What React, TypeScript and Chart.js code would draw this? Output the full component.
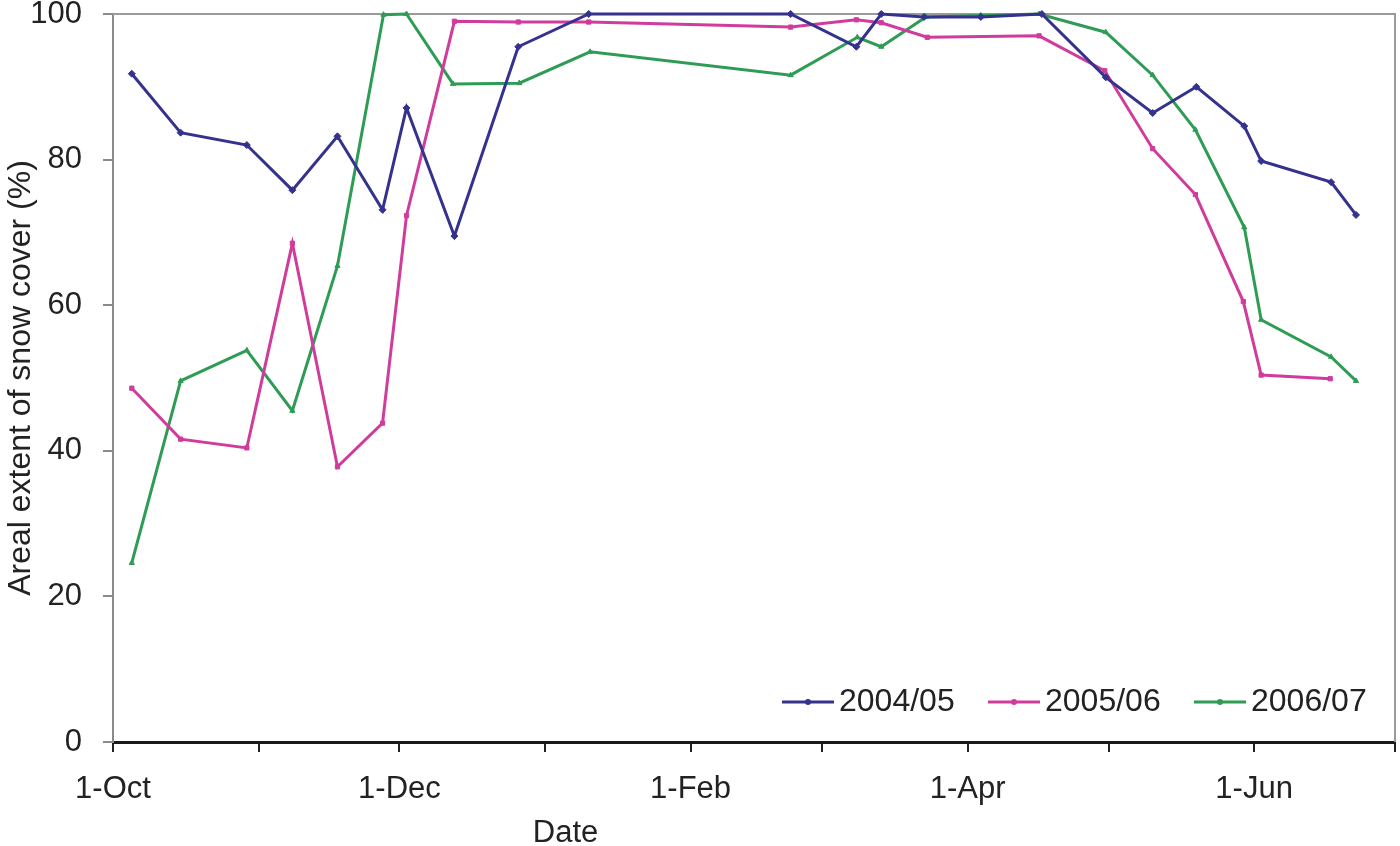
import React, { useEffect, useRef } from "react";
import { Chart, registerables } from "chart.js";

Chart.register(...registerables);

// Days counted from 1 October
const days2004 = [4.0, 14.4, 28.5, 38.2, 47.8, 57.4, 62.5, 72.7, 86.3, 101.3, 144.3, 158.3, 163.6, 172.7, 184.8, 197.8, 211.4, 221.4, 230.7, 240.9, 244.5, 259.4, 264.7];
const snow2004 = [91.8, 83.7, 82.0, 75.8, 83.2, 73.1, 87.1, 69.5, 95.5, 100, 100, 95.5, 100, 99.6, 99.6, 100, 91.3, 86.4, 90.0, 84.6, 79.8, 76.9, 72.4];

const days2005 = [4.0, 14.4, 28.5, 38.2, 47.8, 57.4, 62.5, 72.7, 86.3, 101.3, 144.3, 158.3, 163.6, 173.4, 197.2, 211.2, 221.4, 230.5, 240.7, 244.5, 259.2];
const snow2005 = [48.6, 41.6, 40.4, 68.5, 37.8, 43.8, 72.3, 99.0, 98.9, 98.9, 98.2, 99.2, 98.8, 96.8, 97.0, 92.2, 81.5, 75.2, 60.5, 50.4, 49.9];

const days2006 = [4.0, 14.4, 28.5, 38.2, 47.8, 57.6, 62.5, 72.4, 86.5, 101.6, 144.3, 158.5, 163.6, 173.1, 184.8, 197.2, 211.4, 221.4, 230.5, 240.9, 244.5, 259.4, 264.7];
const snow2006 = [24.6, 49.6, 53.8, 45.5, 65.4, 99.9, 100, 90.4, 90.5, 94.8, 91.6, 96.8, 95.5, 99.6, 99.8, 100, 97.5, 91.6, 84.1, 70.7, 58.0, 52.9, 49.6];

const seriesLabels = ["2004/05", "2005/06", "2006/07"];
const monthTicks = [0, 31, 61, 92, 123, 151, 182, 212, 243, 273];
const monthLabels = ["1-Oct", "", "1-Dec", "", "1-Feb", "", "1-Apr", "", "1-Jun", ""];
const yTitle = "Areal extent of snow cover (%)";
const xTitle = "Date";

const FONT = "'Liberation Sans', Arial, sans-serif";
const TEXT = "#222222";

function pts(xs: number[], ys: number[]) {
  return xs.map((x, i) => ({ x, y: ys[i] }));
}

const framePlugin = {
  id: "frame",
  beforeDatasetsDraw(chart: any) {
    const { ctx, chartArea } = chart;
    ctx.save();
    ctx.strokeStyle = "#9a9a9a";
    ctx.lineWidth = 2;
    ctx.beginPath();
    ctx.moveTo(chartArea.left, chartArea.top);
    ctx.lineTo(chartArea.right, chartArea.top);
    ctx.lineTo(chartArea.right, chartArea.bottom);
    ctx.stroke();
    ctx.restore();
  },
  afterDraw(chart: any) {
    const { ctx, chartArea } = chart;
    ctx.save();
    // x-axis title
    ctx.font = `31px ${FONT}`;
    ctx.fillStyle = TEXT;
    ctx.textAlign = "center";
    ctx.textBaseline = "middle";
    ctx.fillText(xTitle, chartArea.left + 0.353 * (chartArea.right - chartArea.left), 833);
    // legend
    const ds = chart.data.datasets;
    const y = chartArea.bottom - 40;
    ds.forEach((d: any, i: number) => {
      const x0 = chartArea.right - 613 + i * 206;
      ctx.strokeStyle = d.borderColor;
      ctx.lineWidth = 3;
      ctx.beginPath();
      ctx.moveTo(x0, y);
      ctx.lineTo(x0 + 52, y);
      ctx.stroke();
      ctx.fillStyle = d.borderColor;
      ctx.beginPath();
      ctx.arc(x0 + 26, y, 3, 0, Math.PI * 2);
      ctx.fill();
      ctx.fillStyle = TEXT;
      ctx.textAlign = "left";
      ctx.textBaseline = "middle";
      ctx.font = `32px ${FONT}`;
      ctx.fillText(d.label, x0 + 57, y);
    });
    ctx.restore();
  },
};

export default function App() {
  const ref = useRef<HTMLCanvasElement | null>(null);
  useEffect(() => {
    if (!ref.current) return;
    const mk = (label: string, data: any, color: string, style: string, r: number) => ({
      label,
      data,
      borderColor: color,
      backgroundColor: color,
      borderWidth: 3,
      pointStyle: style,
      pointRadius: r,
      pointBorderWidth: 1,
      clip: false,
      tension: 0,
    });
    const chart = new Chart(ref.current, {
      type: "line",
      data: {
        datasets: [
          mk(seriesLabels[0], pts(days2004, snow2004), "#35328e", "rectRot", 3.5),
          mk(seriesLabels[1], pts(days2005, snow2005), "#d03c9c", "rect", 3),
          mk(seriesLabels[2], pts(days2006, snow2006), "#2f9c55", "triangle", 3),
        ],
      },
      options: {
        responsive: false,
        animation: false,
        layout: { padding: { top: 14, right: 3, left: 0, bottom: 0 } },
        plugins: { legend: { display: false }, tooltip: { enabled: false } },
        scales: {
          x: {
            type: "linear",
            min: 0,
            max: 273,
            afterFit: (s: any) => {
              s.height = 104;
              s.paddingLeft = 0;
              s.paddingRight = 0;
            },
            afterBuildTicks: (s: any) => {
              s.ticks = monthTicks.map((v) => ({ value: v }));
            },
            ticks: {
              autoSkip: false,
              maxRotation: 0,
              padding: 19,
              color: TEXT,
              font: { family: FONT, size: 31 },
              callback: (_v: any, i: number) => monthLabels[i],
            },
            grid: { drawOnChartArea: false, drawTicks: true, tickLength: 10, color: "#222", lineWidth: 2 },
            border: { color: "#1a1a1a", width: 3 },
          },
          y: {
            min: 0,
            max: 100,
            afterFit: (s: any) => {
              s.width = 113;
              s.paddingTop = 0;
              s.paddingBottom = 0;
            },
            ticks: {
              stepSize: 20,
              padding: 21,
              color: TEXT,
              font: { family: FONT, size: 31 },
            },
            grid: { drawOnChartArea: false, drawTicks: true, tickLength: 10, color: "#8a8a8a", lineWidth: 2 },
            border: { color: "#8a8a8a", width: 2 },
            title: {
              display: true,
              text: yTitle,
              color: TEXT,
              font: { family: FONT, size: 32 },
              padding: { top: 2, bottom: 0 },
            },
          },
        },
      },
      plugins: [framePlugin],
    });
    return () => chart.destroy();
  }, []);
  return (
    <div style={{ position: "fixed", left: 0, top: 0, width: 1400, height: 846, background: "#fff" }}>
      <canvas ref={ref} width={1400} height={846} style={{ display: "block" }} />
    </div>
  );
}
